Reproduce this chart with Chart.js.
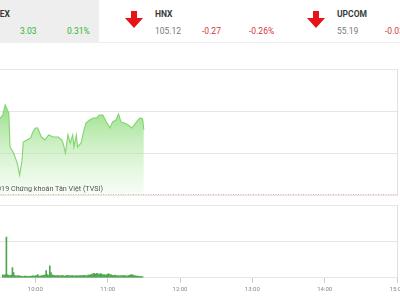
<!DOCTYPE html>
<html>
<head>
<meta charset="utf-8">
<script src="https://cdn.jsdelivr.net/npm/chart.js@4"></script>
<style>
body{margin:0;width:400px;height:300px;overflow:hidden;position:relative;background:#fff;font-family:Roboto,sans-serif}
.t{position:absolute;font-size:8.5px;line-height:10px;white-space:nowrap}
.b{font-weight:bold;color:#3a3a3a}
.g{color:#2fb52f}
.r{color:#d6343c}
.v{color:#777}
#box{position:absolute;left:0;top:0;width:99px;height:42px;background:#eeeeee}
#sep{position:absolute;left:0;top:42px;width:400px;height:1px;background:#efefef}
.arr{position:absolute;width:18px;height:17px}
#priceChart{position:absolute;left:-67px;top:64px}
#volChart{position:absolute;left:-67px;top:200px}
#wm{position:absolute;left:-197px;width:300px;top:184px;text-align:right;font-size:7.2px;line-height:9px;color:#555;white-space:nowrap}
</style>
</head>
<body>
<div id="box"></div>
<div id="sep"></div>
<div class="t b" style="left:-100px;width:110px;text-align:right;top:9px">VNINDEX</div>
<div class="t g" style="left:20px;top:26px">3.03</div>
<div class="t g" style="left:67px;top:26px">0.31%</div>
<svg class="arr" style="left:125px;top:11px" viewBox="0 0 18 17"><path d="M6 0H12V7H18L9 17L0 7H6Z" fill="#e5141b"/></svg>
<div class="t b" style="left:155px;top:9px">HNX</div>
<div class="t v" style="left:155px;top:26px">105.12</div>
<div class="t r" style="left:202px;top:26px">-0.27</div>
<div class="t r" style="left:249px;top:26px">-0.26%</div>
<svg class="arr" style="left:307px;top:11px" viewBox="0 0 18 17"><path d="M6 0H12V7H18L9 17L0 7H6Z" fill="#e5141b"/></svg>
<div class="t b" style="left:337px;top:9px">UPCOM</div>
<div class="t v" style="left:337px;top:26px">55.19</div>
<div class="t r" style="left:385px;top:26px">-0.03</div>

<canvas id="priceChart" width="479" height="136"></canvas>
<div id="wm">© 2019 Chứng khoán Tân Việt (TVSI)</div>
<canvas id="volChart" width="479" height="100"></canvas>

<script>
// VN-Index intraday, morning session
var priceTimes = ["9:15","9:20","9:25","9:30","9:33","9:35","9:38","9:39","9:42","9:45","9:47","9:49","9:50","9:53","9:56",
  "9:58","10:00","10:02","10:05","10:08","10:11","10:15","10:19","10:22","10:23","10:25","10:27","10:29","10:31","10:32",
  "10:34","10:35","10:38","10:40","10:42","10:45","10:48","10:51","10:53","10:56","10:59","11:02","11:04","11:07","11:09",
  "11:11","11:14","11:17","11:20","11:22","11:25","11:27","11:29","11:30"];
var priceValues = [978.2,979.5,980.2,980.6,980.8,981.29,980.9,979.29,979.0,978.52,977.95,978.67,979.52,979.62,979.71,
  980.0,980.19,980.19,979.76,979.62,979.86,979.76,979.76,979.62,979.48,979.0,979.86,979.48,979.86,979.29,
  979.86,979.29,979.48,980.0,980.43,980.57,980.67,980.67,980.81,980.81,980.48,980.19,980.48,980.57,980.86,
  980.48,980.43,980.33,980.19,980.33,980.57,980.67,980.62,980.1];
var refPrice = 977;

// matched volume per minute (thousand shares) from 9:33
var volStart = "9:33";
var volValues = [40,35,45,560,40,35,30,38,140,70,30,25,28,30,22,25,20,18,22,25,20,18,22,20,24,26,22,
  28,30,45,25,22,26,30,35,40,100,45,30,165,70,40,35,30,28,32,30,26,28,30,32,25,28,30,35,28,26,
  30,32,28,25,30,28,26,32,30,28,35,30,32,28,40,35,45,50,55,60,48,62,55,45,58,50,40,45,38,42,
  50,55,45,40,35,30,38,32,28,30,25,30,28,32,30,28,25,30,35,40,45,38,30,28,25,22,20,18,20,15];

var tickLabels = ["9:00","10:00","11:00","12:00","13:00","14:00","15:00"];

function toMin(t) {
  var p = t.split(":");
  return (parseInt(p[0]) - 9) * 60 + parseInt(p[1]);
}

var pricePoints = priceTimes.map(function (t, i) { return { x: toMin(t), y: priceValues[i] }; });
var volPoints = volValues.map(function (v, i) { return { x: toMin(volStart) + i, y: v }; });

Chart.defaults.font.family = "Roboto, sans-serif";

var ctx = document.getElementById("priceChart");
var priceChart = new Chart(ctx, {
  type: "line",
  data: {
    datasets: [
      {
        data: pricePoints,
        borderColor: "#7fd66c",
        borderWidth: 1.1,
        pointRadius: 0,
        tension: 0,
        fill: "start",
        backgroundColor: function (c) {
          var a = c.chart.chartArea;
          if (!a) return "rgba(140,220,120,0.5)";
          var g = c.chart.ctx.createLinearGradient(0, a.top + 30, 0, a.bottom);
          g.addColorStop(0, "rgba(130,215,110,0.9)");
          g.addColorStop(1, "rgba(200,240,190,0.15)");
          return g;
        },
      },
      {
        data: [{ x: 0, y: refPrice }, { x: 360, y: refPrice }],
        borderColor: "#d9534f",
        borderWidth: 1,
        borderDash: [1, 1.5],
        pointRadius: 0,
        fill: false,
      },
    ],
  },
  options: {
    responsive: false,
    animation: false,
    layout: { padding: { left: 30, right: 15, top: 5, bottom: 5 } },
    plugins: { legend: { display: false }, tooltip: { enabled: false } },
    scales: {
      x: { type: "linear", min: 0, max: 360, display: false },
      y: {
        position: "right",
        min: 977,
        max: 983,
        ticks: { display: false, stepSize: 2 },
        grid: { color: "#e6e6e6", drawTicks: false },
        border: { color: "#e0e0e0" },
      },
    },
  },
});

var ctx1 = document.getElementById("volChart");
var volChart = new Chart(ctx1, {
  type: "bar",
  data: {
    datasets: [
      {
        data: volPoints,
        backgroundColor: "#4ea64e",
        barThickness: 1,
      },
    ],
  },
  options: {
    responsive: false,
    animation: false,
    layout: { padding: { left: 30, right: 15, top: 5, bottom: 4 } },
    plugins: { legend: { display: false }, tooltip: { enabled: false } },
    scales: {
      x: {
        type: "linear",
        offset: false,
        min: 0,
        max: 360,
        ticks: {
          stepSize: 60,
          autoSkip: false,
          maxRotation: 0,
          color: "#888",
          font: { size: 6 },
          callback: function (v) { return tickLabels[v / 60]; },
        },
        grid: { drawOnChartArea: false, tickLength: 5, color: "#cccccc", offset: false },
        border: { color: "#e6e6e6" },
      },
      y: {
        position: "right",
        min: 0,
        max: 1000,
        ticks: { display: false, stepSize: 500 },
        grid: { color: "#e6e6e6", drawTicks: false },
        border: { color: "#e0e0e0" },
      },
    },
  },
});
</script>
</body>
</html>
